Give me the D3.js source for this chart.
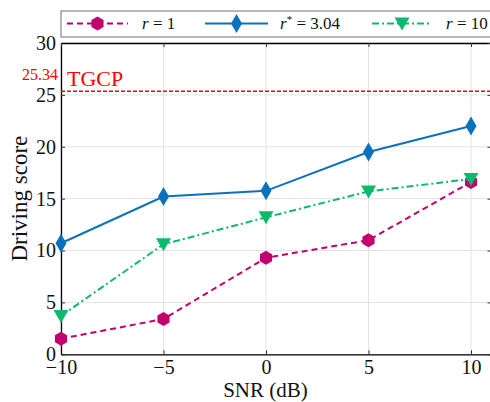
<!DOCTYPE html>
<html>
<head>
<meta charset="utf-8">
<script src="https://cdn.jsdelivr.net/npm/d3@7"></script>
<style>
body { margin: 0; background: #fff; }
svg text { font-family: "Liberation Serif", "DejaVu Serif", serif !important; }
</style>
</head>
<body>
<div id="chart"></div>
<script>
// data
var snr = [-10, -5, 0, 5, 10];
var r1 = [1.5, 3.4, 9.3, 11.0, 16.6];
var rStar = [10.7, 15.2, 15.75, 19.5, 22.0];
var r10 = [3.7, 10.6, 13.2, 15.7, 16.9];
var tgcp = 25.34;
var yTicks = [0, 5, 10, 15, 20, 25, 30];
var xTicks = [-10, -5, 0, 5, 10];

var W = 490, H = 402;
var padL = 61, padT = 43, padB = 354.3;
var serif = "'Liberation Serif', 'DejaVu Serif', serif";

var x = d3.scaleLinear().domain([-10, 11]).range([padL, padL + 21 * 20.5]);
var y = d3.scaleLinear().domain([0, 30]).range([padB, padT]);

var svg = d3.select("#chart").append("svg")
    .attr("width", W).attr("height", H)
    .style("font-family", serif);

// grid
svg.append("g").selectAll("line").data(xTicks).enter().append("line")
    .attr("x1", d => x(d)).attr("x2", d => x(d))
    .attr("y1", padT).attr("y2", padB)
    .attr("stroke", "#e3e3e3").attr("stroke-width", 1);
svg.append("g").selectAll("line").data(yTicks).enter().append("line")
    .attr("x1", padL).attr("x2", x(11))
    .attr("y1", d => y(d)).attr("y2", d => y(d))
    .attr("stroke", "#e3e3e3").attr("stroke-width", 1);

// axes (inward ticks)
var gx = svg.append("g").attr("transform", "translate(0," + padB + ")")
    .call(d3.axisBottom(x).tickValues(xTicks).tickSizeInner(-4).tickSizeOuter(0)
        .tickFormat(d => d < 0 ? "\u2212" + Math.abs(d) : d));
var gy = svg.append("g").attr("transform", "translate(" + padL + ",0)")
    .call(d3.axisLeft(y).tickValues(yTicks).tickSizeInner(-4).tickSizeOuter(0));
var gt = svg.append("g").attr("transform", "translate(0," + padT + ")")
    .call(d3.axisTop(x).tickValues(xTicks).tickSizeInner(-4).tickSizeOuter(0).tickFormat(""));
var gr = svg.append("g").attr("transform", "translate(" + x(11) + ",0)")
    .call(d3.axisRight(y).tickValues(yTicks).tickSizeInner(-4).tickSizeOuter(0).tickFormat(""));
[gx, gy, gt, gr].forEach(function (g) {
    g.attr("font-family", null).style("font-family", serif);
    g.select(".domain").attr("stroke", "#000").attr("stroke-width", 1.3);
    g.selectAll(".tick line").attr("stroke", "#333");
    g.selectAll(".tick text").attr("font-size", 20).attr("fill", "#111")
        .style("font-family", serif);
});
gx.selectAll(".tick text").attr("dy", "0.82em");
gy.selectAll(".tick text").attr("dx", "-0.1em");

// TGCP line
svg.append("line")
    .attr("x1", padL).attr("x2", x(11))
    .attr("y1", y(tgcp)).attr("y2", y(tgcp))
    .attr("stroke", "red").attr("stroke-width", 1.5).attr("stroke-dasharray", "4,2");
svg.append("text").attr("x", 67).attr("y", y(tgcp) - 5)
    .attr("font-size", 22).attr("fill", "red").text("TGCP");
svg.append("text").attr("x", 58).attr("y", y(tgcp) - 11).attr("text-anchor", "end")
    .attr("font-size", 16).attr("fill", "red").text("25.34");

// series
var series = [
    {name: "r1", vals: r1, color: "#c2006e", dash: "6,4", marker: "hex"},
    {name: "rStar", vals: rStar, color: "#0a72bd", dash: null, marker: "diamond"},
    {name: "r10", vals: r10, color: "#0cba6c", dash: "7,3,2,3", marker: "tri"}
];

function drawMarker(g, type, cx, cy, color) {
    if (type === "hex") {
        var pts = d3.range(6).map(function (k) {
            var a = Math.PI / 3 * k + Math.PI / 6;
            return [cx + 7 * Math.cos(a), cy + 7 * Math.sin(a)];
        });
        g.append("polygon").attr("points", pts.join(" ")).attr("fill", color);
    } else if (type === "diamond") {
        g.append("polygon")
            .attr("points", [[cx, cy - 9.5], [cx + 5.5, cy], [cx, cy + 9.5], [cx - 5.5, cy]].join(" "))
            .attr("fill", color);
    } else {
        g.append("polygon")
            .attr("points", [[cx - 7.5, cy - 6], [cx + 7.5, cy - 6], [cx, cy + 7]].join(" "))
            .attr("fill", color);
    }
}

var line = d3.line().x(d => x(d[0])).y(d => y(d[1]));
var plot = svg.append("g");
series.forEach(function (s) {
    var pts = snr.map((v, i) => [v, s.vals[i]]);
    plot.append("path").datum(pts)
        .attr("d", line).attr("fill", "none")
        .attr("stroke", s.color).attr("stroke-width", 2)
        .attr("stroke-dasharray", s.dash);
    pts.forEach(function (p) { drawMarker(plot, s.marker, x(p[0]), y(p[1]), s.color); });
});

// legend
var leg = svg.append("g");
leg.append("rect").attr("x", 61).attr("y", 11).attr("width", 440).attr("height", 26)
    .attr("fill", "#fff").attr("stroke", "#888").attr("stroke-width", 1.2);
var legItems = [
    {x0: 67, x1: 128, label: ["r", " = 1"], tx: 142},
    {x0: 205, x1: 268, label: ["r", "* = 3.04"], tx: 280},
    {x0: 372, x1: 432, label: ["r", " = 10"], tx: 446}
];
legItems.forEach(function (it, i) {
    var s = series[i], ly = 23.5;
    leg.append("line").attr("x1", it.x0).attr("x2", it.x1).attr("y1", ly).attr("y2", ly)
        .attr("stroke", s.color).attr("stroke-width", 2).attr("stroke-dasharray", s.dash);
    drawMarker(leg, s.marker, (it.x0 + it.x1) / 2, ly, s.color);
    var t = leg.append("text").attr("x", it.tx).attr("y", ly + 5).attr("font-size", 17).attr("fill", "#111");
    t.append("tspan").attr("font-style", "italic").text(it.label[0]);
    if (i === 1) {
        t.append("tspan").attr("font-size", 11).attr("dy", -6).text("*");
        t.append("tspan").attr("dy", 6).text(" = 3.04");
    } else {
        t.append("tspan").text(it.label[1]);
    }
});

// axis titles
svg.append("text").attr("x", (padL + 470) / 2).attr("y", 397).attr("text-anchor", "middle")
    .attr("font-size", 21).attr("fill", "#111").text("SNR (dB)");
svg.append("text").attr("transform", "translate(27," + ((padT + padB) / 2) + ") rotate(-90)")
    .attr("text-anchor", "middle").attr("font-size", 23).attr("fill", "#111").text("Driving score");
</script>
</body>
</html>
